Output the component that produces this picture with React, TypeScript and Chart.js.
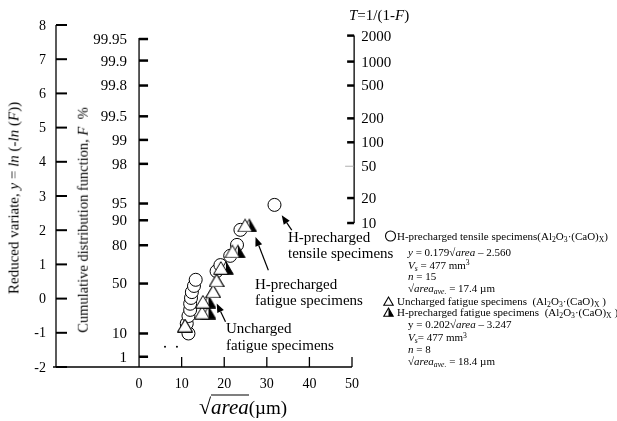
import React, { useEffect, useRef } from "react";
import { Chart, registerables } from "chart.js";

Chart.register(...registerables);

const FONT = '"Liberation Serif", "Times New Roman", Times, serif';

// ---- data ----
// H-precharged tensile specimens (circles): sqrt(area) [um], reduced variate y
const tensileX = [11.6, 11.2, 11.6, 12.0, 12.0, 12.2, 12.4, 12.9, 13.3, 18.2, 19.1, 21.4, 23.0, 23.8, 31.8];
const tensileY = [-1.02, -0.73, -0.51, -0.33, -0.15, 0.02, 0.19, 0.37, 0.55, 0.8, 0.98, 1.25, 1.57, 2.01, 2.74];

// H-precharged fatigue specimens (half-filled triangles)
const hFatigueX = [10.8, 16.3, 16.3, 17.4, 18.2, 20.4, 23.2, 25.9];
const hFatigueY = [-0.79, -0.41, -0.09, 0.21, 0.53, 0.9, 1.38, 2.14];

// Uncharged fatigue specimens (open triangles)
const unFatigueX = [10.8, 14.8, 15.0, 17.4, 18.2, 19.2, 21.9, 24.9];
const unFatigueY = [-0.79, -0.41, -0.09, 0.21, 0.53, 0.9, 1.38, 2.14];

// two small dots near the bottom
const dotsX = [6.1, 8.9];
const dotsY = [-1.41, -1.41];

// axes
const X_MIN = -19.5;
const X_MAX = 50;
const Y_MIN = -2;
const Y_MAX = 8;
const xTickValues = [0, 10, 20, 30, 40, 50];
const reducedTicks = [-2, -1, 0, 1, 2, 3, 4, 5, 6, 7, 8];
const F_AXIS_AT = 0;
const fLabels = ["99.95", "99.9", "99.8", "99.5", "99", "98", "95", "90", "80", "50", "10", "1"];
const fPositions = [7.59, 6.96, 6.23, 5.33, 4.64, 3.94, 2.78, 2.29, 1.56, 0.44, -1.02, -1.7];
const T_AXIS_AT = 50.5;
const tLabels = ["2000", "1000", "500", "200", "100", "50", "20", "10"];
const tPositions = [7.69, 6.93, 6.23, 5.27, 4.57, 3.87, 2.94, 2.21];

// annotation arrows: [tailX, tailY, headX, headY] in data units
const arrowTensile = [35.85, 2.0, 33.5, 2.44];
const arrowHFatigue = [30.36, 0.83, 27.35, 1.8];
const arrowUnFatigue = [20.3, -0.68, 18.24, -0.14];

function makeTriangle(half: boolean): HTMLCanvasElement {
  const c = document.createElement("canvas");
  c.width = 16;
  c.height = 14;
  const g = c.getContext("2d")!;
  const top = [8, 0.8];
  const r = [15.3, 13.3];
  const l = [0.7, 13.3];
  g.beginPath();
  g.moveTo(top[0], top[1]);
  g.lineTo(r[0], r[1]);
  g.lineTo(l[0], l[1]);
  g.closePath();
  g.fillStyle = "#fff";
  g.fill();
  if (half) {
    g.beginPath();
    g.moveTo(8, 0.8);
    g.lineTo(r[0], r[1]);
    g.lineTo(8, 13.3);
    g.closePath();
    g.fillStyle = "#000";
    g.fill();
  }
  g.beginPath();
  g.moveTo(top[0], top[1]);
  g.lineTo(r[0], r[1]);
  g.lineTo(l[0], l[1]);
  g.closePath();
  g.strokeStyle = "#000";
  g.lineWidth = 1;
  g.stroke();
  return c;
}

const axesPlugin = {
  id: "gumbelAxes",
  beforeDatasetsDraw(chart: any) {
    const ctx: CanvasRenderingContext2D = chart.ctx;
    const xs = chart.scales.x;
    const ys = chart.scales.y;
    const px = (v: number) => xs.getPixelForValue(v);
    const py = (v: number) => ys.getPixelForValue(v);
    const line = (a: number, b: number, c: number, d: number) => {
      ctx.beginPath();
      ctx.moveTo(a, b);
      ctx.lineTo(c, d);
      ctx.stroke();
    };
    ctx.save();
    ctx.strokeStyle = "#000";
    ctx.fillStyle = "#000";
    const x0 = px(X_MIN);
    const x1 = px(X_MAX);
    const yb = py(Y_MIN);
    const yt = py(Y_MAX);
    // left reduced variate axis and bottom axis
    ctx.lineWidth = 1.3;
    line(x0, yb, x0, yt);
    line(x0 - 3, yb, x1, yb);
    ctx.lineWidth = 2;
    reducedTicks.forEach((v) => line(x0, py(v), x0 + 11, py(v)));
    ctx.font = `14px ${FONT}`;
    ctx.textAlign = "right";
    ctx.textBaseline = "middle";
    reducedTicks.forEach((v) => ctx.fillText(String(v), x0 - 10, py(v) + 1));
    // x ticks
    ctx.lineWidth = 1.3;
    xTickValues.forEach((v) => {
      if (v !== F_AXIS_AT) line(px(v), yb, px(v), yb - 10);
    });
    ctx.textAlign = "center";
    ctx.font = `14px ${FONT}`;
    xTickValues.forEach((v) => ctx.fillText(String(v), px(v), yb + 17));
    // F axis
    const fx = px(F_AXIS_AT);
    ctx.lineWidth = 1.3;
    line(fx, yb, fx, py(fPositions[0]) - 1);
    ctx.lineWidth = 2.5;
    fPositions.forEach((v) => line(fx, py(v), fx + 9, py(v)));
    ctx.font = `15px ${FONT}`;
    ctx.textAlign = "right";
    fLabels.forEach((s, i) => ctx.fillText(s, fx - 12, py(fPositions[i]) + 1));
    // T axis
    const tx = px(T_AXIS_AT);
    ctx.lineWidth = 1.3;
    line(tx, py(tPositions[tPositions.length - 1]), tx, py(tPositions[0]));
    tPositions.forEach((v, i) => {
      if (tLabels[i] === "50") {
        ctx.lineWidth = 0.8;
        ctx.strokeStyle = "#999";
        line(tx - 9, py(v), tx, py(v));
        ctx.strokeStyle = "#000";
      } else {
        ctx.lineWidth = 2.5;
        line(tx - 7, py(v), tx, py(v));
      }
    });
    ctx.textAlign = "left";
    ctx.font = `15px ${FONT}`;
    tLabels.forEach((s, i) => ctx.fillText(s, tx + 7, py(tPositions[i]) + 1));
    ctx.restore();
  },
  afterDatasetsDraw(chart: any) {
    const ctx: CanvasRenderingContext2D = chart.ctx;
    const xs = chart.scales.x;
    const ys = chart.scales.y;
    const drawArrow = (a: number[]) => {
      const x1 = xs.getPixelForValue(a[0]);
      const y1 = ys.getPixelForValue(a[1]);
      const x2 = xs.getPixelForValue(a[2]);
      const y2 = ys.getPixelForValue(a[3]);
      const ang = Math.atan2(y2 - y1, x2 - x1);
      const len = 9;
      const w = 3.6;
      const bx = x2 - len * Math.cos(ang);
      const by = y2 - len * Math.sin(ang);
      ctx.save();
      ctx.strokeStyle = "#000";
      ctx.fillStyle = "#000";
      ctx.lineWidth = 1.2;
      ctx.beginPath();
      ctx.moveTo(x1, y1);
      ctx.lineTo(bx, by);
      ctx.stroke();
      ctx.beginPath();
      ctx.moveTo(x2, y2);
      ctx.lineTo(bx + w * Math.sin(ang), by - w * Math.cos(ang));
      ctx.lineTo(bx - w * Math.sin(ang), by + w * Math.cos(ang));
      ctx.closePath();
      ctx.fill();
      ctx.restore();
    };
    drawArrow(arrowTensile);
    drawArrow(arrowHFatigue);
    drawArrow(arrowUnFatigue);
  },
};

const Sub = ({ children }: { children: React.ReactNode }) => (
  <span style={{ fontSize: "0.7em", position: "relative", top: "0.3em", lineHeight: 0 }}>{children}</span>
);
const Sup = ({ children }: { children: React.ReactNode }) => (
  <span style={{ fontSize: "0.7em", position: "relative", top: "-0.45em", lineHeight: 0 }}>{children}</span>
);

const Txt = ({
  x,
  y,
  size,
  children,
}: {
  x: number;
  y: number;
  size: number;
  children: React.ReactNode;
}) => (
  <div
    style={{
      position: "absolute",
      left: x,
      top: y - size / 2,
      height: size,
      fontSize: size,
      lineHeight: `${size}px`,
      whiteSpace: "nowrap",
    }}
  >
    {children}
  </div>
);

const Compound = () => (
  <span>
    (Al<Sub>2</Sub>O<Sub>3</Sub>·(CaO)<Sub>X</Sub>
  </span>
);

const LEG = 11;

export default function App() {
  const ref = useRef<HTMLCanvasElement | null>(null);

  useEffect(() => {
    if (!ref.current) return;
    const halfImg = makeTriangle(true);
    const openImg = makeTriangle(false);
    const pts = (xs: number[], ys: number[]) => xs.map((x, i) => ({ x, y: ys[i] }));
    const chart = new Chart(ref.current, {
      type: "scatter",
      data: {
        datasets: [
          {
            label: "Uncharged fatigue specimens",
            data: pts(unFatigueX, unFatigueY),
            pointStyle: openImg as any,
            order: 1,
          },
          {
            label: "H-precharged fatigue specimens",
            data: pts(hFatigueX, hFatigueY),
            pointStyle: halfImg as any,
            order: 2,
          },
          {
            label: "H-precharged tensile specimens",
            data: pts(tensileX, tensileY),
            pointStyle: "circle",
            pointRadius: 6.5,
            pointBackgroundColor: "#fff",
            pointBorderColor: "#000",
            pointBorderWidth: 1,
            order: 3,
          },
          {
            label: "dots",
            data: pts(dotsX, dotsY),
            pointStyle: "circle",
            pointRadius: 1,
            pointBackgroundColor: "#000",
            pointBorderWidth: 0,
            order: 4,
          },
        ],
      },
      options: {
        responsive: false,
        animation: false,
        devicePixelRatio: 1,
        events: [],
        layout: { padding: { left: 56, right: 265, top: 25, bottom: 54 } },
        scales: {
          x: { type: "linear", min: X_MIN, max: X_MAX, display: false },
          y: { type: "linear", min: Y_MIN, max: Y_MAX, display: false },
        },
        plugins: { legend: { display: false }, tooltip: { enabled: false } },
      } as any,
      plugins: [axesPlugin],
    });
    return () => chart.destroy();
  }, []);

  return (
    <div
      style={{
        position: "absolute",
        left: 0,
        top: 0,
        width: 617,
        height: 421,
        background: "#fff",
        fontFamily: FONT,
        color: "#000",
        overflow: "hidden",
      }}
    >
      <canvas
        ref={ref}
        width={617}
        height={421}
        style={{ position: "absolute", left: 0, top: 0, width: 617, height: 421 }}
      />
      {/* rotated axis titles */}
      <div
        style={{
          position: "absolute",
          left: 14,
          top: 198,
          transform: "translate(-50%, -50%) rotate(-90deg)",
          fontSize: 15,
          whiteSpace: "nowrap",
          lineHeight: 1,
        }}
      >
        Reduced variate, <i>y</i> = <i>ln</i> (-<i>ln</i> (<i>F</i>))
      </div>
      <div
        style={{
          position: "absolute",
          left: 83,
          top: 220,
          transform: "translate(-50%, -50%) rotate(-90deg)",
          fontSize: 14.5,
          whiteSpace: "nowrap",
          lineHeight: 1,
        }}
      >
        Cumulative distribution function, <i>F</i>&nbsp;&nbsp;%
      </div>
      {/* T axis title */}
      <Txt x={349} y={15} size={15}>
        <i>T</i>=1/(1-<i>F</i>)
      </Txt>
      {/* x axis title */}
      <div
        style={{
          position: "absolute",
          left: 199,
          top: 406,
          transform: "translateY(-50%)",
          whiteSpace: "nowrap",
          lineHeight: 1,
          display: "flex",
          alignItems: "flex-end",
        }}
      >
        <span style={{ fontSize: 22, lineHeight: 1 }}>√</span>
        <span
          style={{
            fontSize: 21,
            fontStyle: "italic",
            borderTop: "1.3px solid #000",
            lineHeight: 1,
            paddingTop: 1,
          }}
        >
          area
        </span>
        <span style={{ fontSize: 19, lineHeight: 1.05 }}>(µm)</span>
      </div>
      {/* annotations */}
      <Txt x={288} y={237} size={15}>H-precharged</Txt>
      <Txt x={288} y={253} size={15}>tensile specimens</Txt>
      <Txt x={255} y={284} size={15}>H-precharged</Txt>
      <Txt x={255} y={300} size={15}>fatigue specimens</Txt>
      <Txt x={226} y={328} size={15}>Uncharged</Txt>
      <Txt x={226} y={345} size={15}>fatigue specimens</Txt>
      {/* legend block */}
      <svg
        width={617}
        height={421}
        style={{ position: "absolute", left: 0, top: 0, pointerEvents: "none" }}
      >
        <circle cx={390.5} cy={236} r={5} fill="#fff" stroke="#000" strokeWidth={1.1} />
        <polygon points="388.5,297 393.2,305.3 383.8,305.3" fill="#fff" stroke="#000" strokeWidth={1.1} />
        <polygon points="388.5,308 393.2,316.3 388.5,316.3" fill="#000" />
        <polygon points="388.5,308 393.2,316.3 383.8,316.3" fill="none" stroke="#000" strokeWidth={1.1} />
      </svg>
      <Txt x={397} y={236} size={LEG}>
        H-precharged tensile specimens<Compound />)
      </Txt>
      <Txt x={408} y={252} size={LEG}>
        <i>y</i> = 0.179√<i>area</i> – 2.560
      </Txt>
      <Txt x={408} y={265} size={LEG}>
        <i>V</i>
        <Sub>
          <i>s</i>
        </Sub>{" "}
        = 477 mm<Sup>3</Sup>
      </Txt>
      <Txt x={408} y={276} size={LEG}>
        <i>n</i> = 15
      </Txt>
      <Txt x={408} y={288.5} size={LEG}>
        √<i>area</i>
        <Sub>
          <i>ave.</i>
        </Sub>{" "}
        = 17.4 µm
      </Txt>
      <Txt x={397} y={301.5} size={LEG}>
        Uncharged fatigue specimens&nbsp; <Compound /> )
      </Txt>
      <Txt x={397} y={312.5} size={LEG}>
        H-precharged fatigue specimens&nbsp; <Compound /> )
      </Txt>
      <Txt x={408} y={324.5} size={LEG}>
        y = 0.202√<i>area</i> – 3.247
      </Txt>
      <Txt x={408} y={337.5} size={LEG}>
        <i>V</i>
        <Sub>
          <i>s</i>
        </Sub>
        = 477 mm<Sup>3</Sup>
      </Txt>
      <Txt x={408} y={349} size={LEG}>
        <i>n</i> = 8
      </Txt>
      <Txt x={408} y={361.5} size={LEG}>
        √<i>area</i>
        <Sub>
          <i>ave.</i>
        </Sub>{" "}
        = 18.4 µm
      </Txt>
    </div>
  );
}
